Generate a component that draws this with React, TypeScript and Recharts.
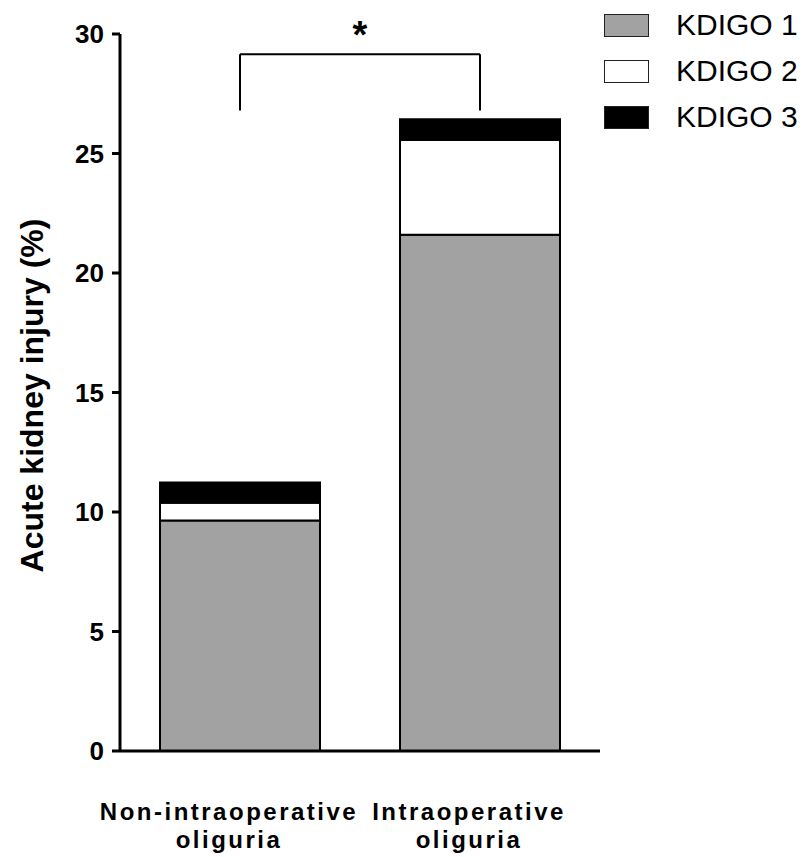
import React from "react";
import { BarChart, Bar, XAxis, YAxis, ReferenceLine } from "recharts";

const categories = ["Non-intraoperative oliguria", "Intraoperative oliguria"];
const labelLine1 = ["Non-intraoperative", "Intraoperative"];
const labelLine2 = ["oliguria", "oliguria"];
const kdigo1 = [9.64, 21.6];
const kdigo2 = [0.75, 3.96];
const kdigo3 = [0.84, 0.87];
const yTicks = [0, 5, 10, 15, 20, 25, 30];
const seriesNames = ["KDIGO 1", "KDIGO 2", "KDIGO 3"];
const seriesColors = ["#a2a2a2", "#ffffff", "#000000"];
const bracketTop = 29.15;
const bracketBottom = 26.8;

const data = categories.map((c, i) => ({
  cat: c,
  k1: kdigo1[i],
  k2: kdigo2[i],
  k3: kdigo3[i],
}));

const FONT = "'Liberation Sans', Arial, Helvetica, sans-serif";

const XTick = (props: any) => {
  const { x, y, index } = props;
  return (
    <text
      x={x}
      y={y}
      textAnchor="middle"
      fontFamily={FONT}
      fontWeight="bold"
      fontSize={24}
      fill="#000"
      letterSpacing={2.5}
    >
      <tspan x={x - 11} y={y + 69}>{labelLine1[index]}</tspan>
      <tspan x={x - 11} y={y + 97}>{labelLine2[index]}</tspan>
    </text>
  );
};

const YTick = (props: any) => {
  const { x, y, payload } = props;
  return (
    <text
      x={x}
      y={y}
      dy="0.355em"
      textAnchor="end"
      fontFamily={FONT}
      fontWeight="bold"
      fontSize={26}
      fill="#000"
    >
      {payload.value}
    </text>
  );
};

const YLabel = (props: any) => {
  const vb = props.viewBox || {};
  const cy = (vb.y ?? 34) + (vb.height ?? 717) / 2 + 3;
  const cx = 43;
  return (
    <text
      x={cx}
      y={cy}
      transform={`rotate(-90, ${cx}, ${cy})`}
      textAnchor="middle"
      fontFamily={FONT}
      fontWeight="bold"
      fontSize={32}
      fill="#000"
    >
      Acute kidney injury (%)
    </text>
  );
};

const StarLabel = (props: any) => {
  const vb = props.viewBox || {};
  const cx = (vb.x ?? 0) + (vb.width ?? 0) / 2;
  const y = (vb.y ?? 0) - 6;
  return (
    <text
      x={cx}
      y={y}
      textAnchor="middle"
      fontFamily={FONT}
      fontWeight="bold"
      fontSize={38}
      fill="#000"
    >
      *
    </text>
  );
};

export default function App() {
  return (
    <div style={{ position: "absolute", left: 0, top: 0, width: 806, height: 857, background: "#fff" }}>
      <BarChart
        width={806}
        height={857}
        data={data}
        margin={{ top: 34, right: 206, bottom: 0, left: 0 }}
        barCategoryGap="16.67%"
      >
        <XAxis
          dataKey="cat"
          height={106}
          tickLine={false}
          tickSize={0}
          tickMargin={0}
          axisLine={{ stroke: "#000", strokeWidth: 3 }}
          tick={<XTick />}
          interval={0}
        />
        <YAxis
          width={120}
          domain={[0, 30]}
          ticks={yTicks}
          interval={0}
          tickSize={8}
          tickMargin={8}
          axisLine={{ stroke: "#000", strokeWidth: 3 }}
          tickLine={{ stroke: "#000", strokeWidth: 3 }}
          tick={<YTick />}
          label={<YLabel />}
        />
        <Bar dataKey="k1" stackId="a" fill={seriesColors[0]} stroke="#000" strokeWidth={2} isAnimationActive={false} name={seriesNames[0]} />
        <Bar dataKey="k2" stackId="a" fill={seriesColors[1]} stroke="#000" strokeWidth={2} isAnimationActive={false} name={seriesNames[1]} />
        <Bar dataKey="k3" stackId="a" fill={seriesColors[2]} stroke="#000" strokeWidth={2} isAnimationActive={false} name={seriesNames[2]} />
        <ReferenceLine
          segment={[{ x: categories[0], y: bracketTop }, { x: categories[1], y: bracketTop }]}
          stroke="#000"
          strokeWidth={2}
          label={<StarLabel />}
        />
        <ReferenceLine
          segment={[{ x: categories[0], y: bracketTop }, { x: categories[0], y: bracketBottom }]}
          stroke="#000"
          strokeWidth={2}
        />
        <ReferenceLine
          segment={[{ x: categories[1], y: bracketTop }, { x: categories[1], y: bracketBottom }]}
          stroke="#000"
          strokeWidth={2}
        />
      </BarChart>
      <div style={{ position: "absolute", left: 604, top: 2, fontFamily: FONT }}>
        {seriesNames.map((n, i) => (
          <div key={n} style={{ display: "flex", alignItems: "center", height: 46 }}>
            <div
              style={{
                width: 43,
                height: 21,
                background: seriesColors[i],
                border: "1px solid #222",
                marginRight: 27,
              }}
            />
            <span style={{ fontSize: 30, color: "#000", lineHeight: "46px" }}>{n}</span>
          </div>
        ))}
      </div>
    </div>
  );
}
